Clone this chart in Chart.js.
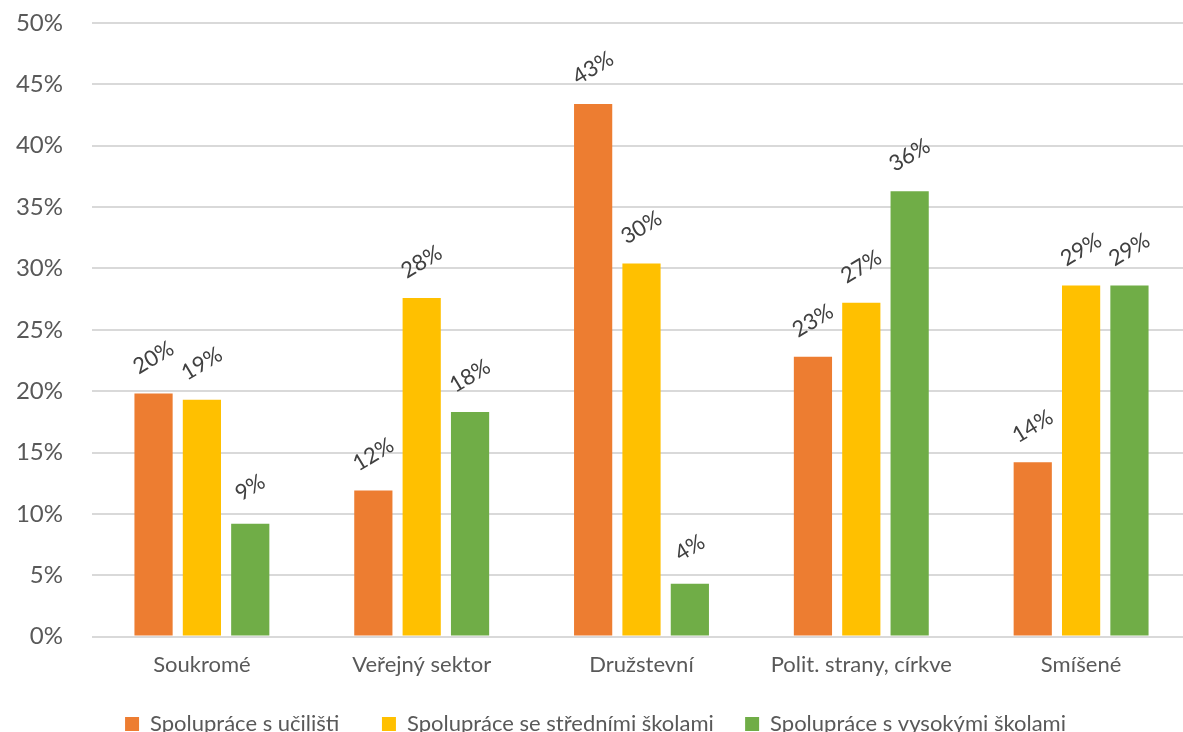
<!DOCTYPE html>
<html>
<head>
<meta charset="utf-8">
<script src="https://cdn.jsdelivr.net/npm/chart.js@4"></script>
<style>
html,body{margin:0;padding:0;overflow:hidden;background:#fff;}
#wrap{position:absolute;left:0;top:0;width:1191px;height:745px;}
</style>
</head>
<body>
<div id="wrap"><canvas id="c"></canvas></div>
<script>
const categories = ["Soukromé", "Veřejný sektor", "Družstevní", "Polit. strany, církve", "Smíšené"];
const seriesNames = ["Spolupráce s učilišti", "Spolupráce se středními školami", "Spolupráce s vysokými školami"];
const ucilisteValues = [19.8, 11.9, 43.4, 22.8, 14.2];
const stredniValues = [19.3, 27.6, 30.4, 27.2, 28.6];
const vysokeValues = [9.2, 18.3, 4.3, 36.3, 28.6];
const yTicks = [0, 5, 10, 15, 20, 25, 30, 35, 40, 45, 50];
const colors = ["#ED7D31", "#FFC000", "#70AD47"];
const legendExtraGap = [4, 2, 0];

const FONT = "Lato, 'Open Sans', sans-serif";

const labelPlugin = {
  id: 'rotLabels',
  afterDatasetsDraw(chart) {
    const ctx = chart.ctx;
    ctx.save();
    ctx.font = "22px " + FONT;
    ctx.fillStyle = "#404040";
    ctx.textAlign = "center";
    ctx.textBaseline = "middle";
    chart.data.datasets.forEach((ds, i) => {
      const meta = chart.getDatasetMeta(i);
      meta.data.forEach((el, j) => {
        const v = ds.data[j];
        ctx.save();
        ctx.translate(el.x, el.y - 36);
        ctx.rotate(-31 * Math.PI / 180);
        ctx.fillText(Math.round(v) + "%", 0, 0);
        ctx.restore();
      });
    });
    ctx.restore();
  }
};

new Chart(document.getElementById('c'), {
  type: 'bar',
  data: {
    labels: categories,
    datasets: [
      { label: seriesNames[0], data: ucilisteValues, backgroundColor: colors[0] },
      { label: seriesNames[1], data: stredniValues, backgroundColor: colors[1] },
      { label: seriesNames[2], data: vysokeValues, backgroundColor: colors[2] }
    ]
  },
  options: {
    responsive: true,
    maintainAspectRatio: false,
    animation: false,
    layout: { padding: { top: 23, left: 0, right: 0, bottom: 0 } },
    datasets: { bar: { categoryPercentage: 0.66, barPercentage: 0.79 } },
    plugins: {
      legend: {
        position: 'bottom',
        labels: {
          font: { family: FONT, size: 22 },
          color: "#595959",
          boxWidth: 14,
          boxHeight: 14,
          padding: 20,
          generateLabels(chart) {
            const items = Chart.defaults.plugins.legend.labels.generateLabels(chart);
            items.forEach((it, i) => { it.text = it.text + "\u00A0".repeat(legendExtraGap[i] || 0); });
            return items;
          }
        }
      },
      tooltip: { enabled: false }
    },
    scales: {
      x: {
        grid: { display: false, drawTicks: false },
        border: { color: "#D9D9D9", width: 1 },
        ticks: { font: { family: FONT, size: 22 }, color: "#595959", padding: 15 }
      },
      y: {
        min: 0, max: 50,
        afterBuildTicks(scale) { scale.ticks = yTicks.map(v => ({ value: v })); },
        afterFit(scale) { scale.width = 92; scale.paddingTop = 0; scale.paddingBottom = 0; },
        grid: { color: "#D9D9D9", lineWidth: 2, drawTicks: false },
        border: { display: false },
        ticks: {
          font: { family: FONT, size: 24 },
          color: "#595959",
          padding: 29,
          callback: v => v + "%"
        }
      }
    }
  },
  plugins: [labelPlugin]
});
</script>
</body>
</html>
